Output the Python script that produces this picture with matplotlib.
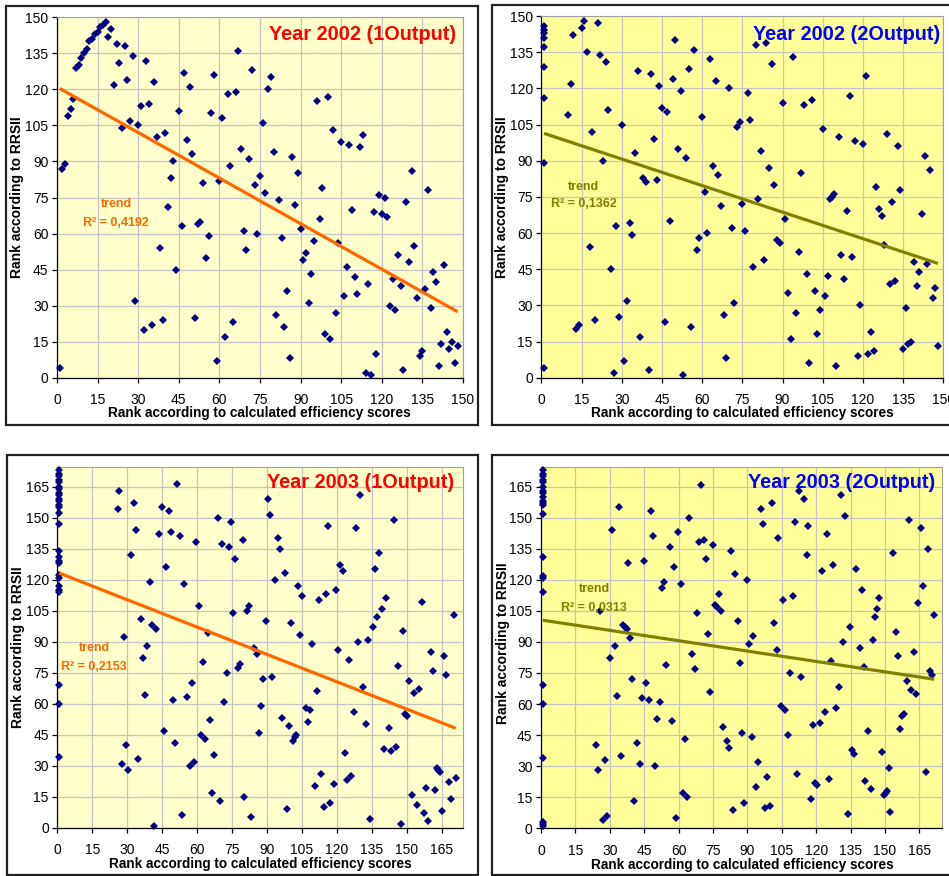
import numpy as np
import matplotlib
matplotlib.use("Agg")
import matplotlib.pyplot as plt
from matplotlib.patches import Rectangle

plt.rcParams['font.family'] = ['Liberation Sans', 'DejaVu Sans']

# ---------------- DATA ----------------
# Panel 1: Year 2002 (1Output)
p1_x = list(range(1, 149))
p1_y = [4, 87, 89, 109, 112, 116, 129, 130, 133, 135, 137, 140, 141, 143, 144, 146, 147, 148, 142, 145,
        122, 139, 131, 104, 138, 124, 107, 134, 32, 105, 113, 20, 132, 114, 22, 123, 100, 54, 24, 102,
        71, 83, 90, 45, 111, 63, 127, 99, 121, 93, 25, 64, 65, 81, 50, 59, 110, 126, 7, 82,
        108, 17, 118, 88, 23, 119, 136, 95, 61, 53, 91, 128, 80, 60, 84, 106, 77, 120, 125, 94,
        26, 74, 58, 21, 36, 8, 92, 72, 85, 62, 49, 52, 31, 43, 57, 115, 66, 79, 18, 117,
        16, 103, 27, 56, 98, 34, 46, 97, 70, 42, 35, 96, 101, 2, 39, 1, 69, 10, 76, 68,
        75, 67, 30, 41, 28, 51, 38, 3, 73, 48, 86, 55, 33, 9, 11, 37, 78, 29, 44, 40,
        5, 14, 47, 19, 12, 15, 6, 13]
p1_trend = [121.0, -0.632]   # intercept, slope
p1_r2 = "0,4192"

# Panel 2: Year 2002 (2Output)
p2_x = [1, 1, 1, 1, 1, 1, 1, 1, 1,
        10, 11, 12, 13, 14, 15, 16, 17, 18, 19, 20, 21, 22, 23, 24, 25, 26, 27, 28, 29,
        30, 31, 32, 33, 34, 35, 36, 37, 38, 39, 40, 41, 42, 43, 44, 45, 46, 47, 48, 49,
        50, 51, 52, 53, 54, 55, 56, 57, 58, 59, 60, 61, 62, 63, 64, 65, 66, 67, 68, 69,
        70, 71, 72, 73, 74, 75, 76, 77, 78, 79, 80, 81, 82, 83, 84, 85, 86, 87, 88, 89,
        90, 91, 92, 93, 94, 95, 96, 97, 98, 99, 100, 101, 102, 103, 104, 105, 106, 107,
        107.8, 108.5, 109.2, 110, 111, 112, 113, 114, 115, 116, 117, 118, 119, 120, 121,
        122, 123, 124, 125, 126, 127, 128, 129, 130, 131, 132, 133, 134, 135, 136, 137,
        138, 139, 140, 141, 142, 143, 144, 145, 146, 147, 148]
p2_y = [146, 144, 143, 141, 137, 129, 116, 89, 4,
        109, 122, 142, 20, 22, 145, 148, 135, 54, 102, 24, 147, 134, 90, 131, 111, 45, 2, 63, 25,
        105, 7, 32, 64, 59, 93, 127, 17, 83, 81, 3, 126, 99, 82, 121, 112, 23, 110, 65, 124,
        140, 95, 119, 1, 91, 128, 21, 136, 53, 58, 108, 77, 60, 132, 88, 123, 84, 71, 26, 8,
        120, 62, 31, 104, 106, 72, 61, 118, 107, 46, 138, 74, 94, 49, 139, 87, 130, 80, 57, 56,
        114, 66, 35, 16, 133, 27, 52, 85, 113, 43, 6, 115, 36, 18, 28, 103, 34, 42,
        74, 75, 76, 5, 100, 51, 41, 69, 117, 50, 98, 9, 30, 97, 125,
        10, 19, 11, 79, 70, 67, 55, 101, 39, 73, 40, 96, 78, 12, 29, 14,
        15, 48, 38, 44, 68, 92, 47, 86, 33, 37, 13]
p2_trend = [101.7, -0.367]
p2_r2 = "0,1362"

# Panel 3: Year 2003 (1Output)
p3_x = [0.8] * 27 + [
    25.9, 26.5, 27.9, 28.6, 29.5, 30.5, 31.8, 32.8, 33.6, 34.5, 35.9, 36.8, 37.6, 38.5, 39.9,
    40.8, 41.6, 42.5, 43.8, 44.8, 45.6, 46.5, 47.9, 48.8, 49.6, 50.6, 51.5, 52.8, 53.6, 54.5,
    55.5, 56.8, 57.7, 58.7, 59.5, 60.8, 61.7, 62.5, 63.5, 64.8, 65.7, 66.5, 67.4, 68.8, 69.7,
    70.5, 71.5, 72.8, 73.7, 74.5, 75.4, 76.4, 77.5, 78.4, 79.5, 80.3, 81.4, 82.3, 83.2, 84.6,
    85.6, 86.6, 87.4, 88.3, 89.6, 90.6, 91.4, 92.3, 93.6, 94.6, 95.5, 96.3, 97.6, 98.6, 99.4,
    100.3, 101.3, 102.0, 102.6, 103.4, 104.3, 105.2, 106.6, 107.4, 108.3, 109.2, 110.6, 111.5,
    112.5, 113.2, 114.5, 115.5, 116.3, 117.2, 118.6, 119.5, 120.3, 121.2, 122.6, 123.5, 124.2,
    125.2, 126.2, 127.3, 128.3, 129.2, 130.1, 131.4, 132.3, 133.2, 134.3, 135.4, 136.3, 137.1,
    138.0, 139.5, 140.4, 141.1, 142.2, 143.4, 144.4, 145.2, 146.1, 147.5, 148.4, 149.4, 150.2,
    151.1, 152.4, 153.2, 154.2, 155.2, 156.4, 157.2, 158.2, 159.1, 160.4, 161.2, 162.2, 163.0,
    163.5, 164.4, 165.3, 166.1, 167.0, 168.3, 169.1, 170.1, 171.0]
p3_y = [173, 171, 170, 168, 167, 165, 164, 162, 161, 159, 158, 156, 155, 152, 147, 134, 131, 129,
        128, 122, 121, 117, 115, 114, 69, 60, 34] + [
    154, 163, 31, 92, 40, 28, 132, 157, 144, 33, 101, 82, 64, 88, 119,
    98, 1, 96, 142, 155, 47, 126, 153, 143, 62, 41, 166, 141, 6, 118,
    63, 30, 70, 32, 138, 107, 45, 80, 43, 94, 52, 17, 35, 150, 13,
    137, 61, 75, 136, 148, 104, 130, 77, 79, 139, 15, 105, 107, 5, 87,
    84, 46, 59, 72, 100, 159, 151, 73, 120, 140, 135, 53, 123, 9, 49,
    99, 42, 44, 45, 117, 93, 112, 58, 51, 57, 89, 20, 66,
    110, 26, 10, 113, 146, 12, 21, 115, 86, 127, 124, 36, 23,
    81, 25, 56, 145, 90, 161, 68, 50, 91, 4, 97, 125, 102,
    133, 106, 38, 111, 48, 37, 149, 39, 78, 2, 95, 55, 54,
    71, 16, 65, 11, 67, 109, 7, 19, 3, 85, 76, 18, 29,
    28, 27, 8, 83, 74, 22, 14, 103, 24]
p3_trend = [123.5, -0.441]
p3_r2 = "0,2153"

# Panel 4: Year 2003 (2Output)
p4_x = [0.8] * 23 + [
    24.0, 24.9, 25.9, 27.2, 28.1, 28.9, 30.0, 30.8, 32.1, 33.0, 33.9, 34.9, 35.8, 36.6, 37.5,
    38.0, 39.0, 39.8, 40.7, 42.0, 43.0, 43.9, 44.8, 45.7, 47.1, 48.0, 48.9, 49.7, 50.6, 52.1,
    52.8, 53.8, 54.7, 56.1, 57.0, 57.9, 58.9, 59.8, 61.1, 62.0, 63.0, 63.7, 64.7, 66.0, 67.0,
    67.9, 68.8, 69.7, 71.0, 72.0, 72.9, 73.7, 74.8, 75.8, 76.6, 77.5, 78.5, 79.5, 80.9, 81.9,
    82.8, 83.8, 84.4, 85.9, 86.8, 87.7, 88.6, 90.0, 90.9, 91.8, 92.6, 93.7, 94.8, 95.8, 96.7,
    97.7, 98.6, 99.9, 100.8, 101.8, 102.7, 103.5, 104.6, 105.7, 106.6, 107.6, 108.5, 110.0,
    110.8, 111.7, 112.6, 113.4, 114.9, 115.8, 116.6, 117.6, 118.5, 119.6, 120.4, 121.7, 122.4,
    123.9, 124.8, 125.6, 126.5, 127.5, 128.8, 129.9, 130.7, 131.6, 132.5, 133.8, 134.8, 135.7,
    136.5, 137.4, 138.9, 139.8, 140.8, 141.5, 142.5, 143.7, 144.7, 145.6, 146.6, 147.5, 148.8,
    149.5, 150.3, 150.8, 151.6, 152.4, 153.6, 154.6, 155.6, 156.5, 157.5, 158.5, 159.6, 160.6,
    161.3, 162.7, 163.7, 164.6, 165.5, 166.4, 167.7, 168.7, 169.5, 170.5, 171.5]
p4_y = [173, 171, 170, 168, 167, 165, 163, 162, 160, 158, 157, 156, 152, 131, 122, 121, 114, 69,
        60, 34, 3, 2, 1] + [
    40, 28, 105, 4, 33, 6, 82, 144, 88, 64, 155, 35, 98, 97, 96,
    128, 92, 72, 13, 41, 31, 63, 129, 70, 62, 153, 141, 30, 53, 61,
    116, 119, 79, 136, 52, 126, 5, 143, 118, 17, 43, 15, 150, 84, 77,
    104, 138, 166, 139, 130, 94, 66, 137, 108, 107, 113, 105, 49, 42, 39,
    134, 9, 123, 100, 80, 46, 12, 120, 89, 44, 93, 20, 32, 154, 147,
    10, 25, 11, 157, 99, 86, 140, 59, 110, 57, 45, 75, 112,
    148, 26, 163, 73, 159, 132, 146, 14, 50, 22, 21, 51, 124,
    56, 142, 24, 81, 127, 58, 68, 161, 90, 151, 7, 97, 38,
    36, 125, 87, 115, 78, 23, 47, 19, 91, 102, 106, 111, 37,
    16, 17, 18, 29, 8, 133, 95, 83, 48, 54, 55, 71, 149,
    67, 85, 65, 109, 145, 117, 27, 135, 76, 74, 103]
p4_trend = [100.6, -0.167]
p4_r2 = "0,0313"

titles = ["Year 2002 (1Output)", "Year 2002 (2Output)", "Year 2003 (1Output)", "Year 2003 (2Output)"]
x_label = "Rank according to calculated efficiency scores"
y_label = "Rank according to RRSII"

# ---------------- LAYOUT ----------------
W, H = 949, 876
fig = plt.figure(figsize=(W / 100, H / 100), dpi=100)
fig.patch.set_facecolor('white')


def fx(x):
    return x / W


def fy(y):
    return 1 - y / H


# chart-area frames (pixels: x0, y0, x1, y1)
frames = [(6, 6, 478, 425), (492, 5, 965, 425), (7, 455, 478, 875), (492, 455, 965, 875)]
for (x0, y0, x1, y1) in frames:
    fig.patches.append(Rectangle((fx(x0), fy(y1)), fx(x1) - fx(x0), fy(y0) - fy(y1),
                                 transform=fig.transFigure, facecolor='white',
                                 edgecolor='#222222', lw=1.6, zorder=-10))

panels = [
    dict(rect=(57, 17.3, 463, 377.7), x=p1_x, y=p1_y, trend=p1_trend, r2=p1_r2, lim=(150, 150),
         bg='#FFFFCC', tcol='#FF0000', lcol='#FF6600', title_px=(456, 35),
         trend_txt=(21.9, 72.3, 64.4), ylab_px=(17, 197), xlab_px=(259.5, 413)),
    dict(rect=(541.3, 16, 943.3, 377.7), x=p2_x, y=p2_y, trend=p2_trend, r2=p2_r2, lim=(150, 150),
         bg='#FFFF99', tcol='#0000FF', lcol='#808000', title_px=(940, 35),
         trend_txt=(15.7, 79.2, 71.9), ylab_px=(501.7, 197), xlab_px=(742, 413)),
    dict(rect=(57.3, 466.7, 462.7, 827.7), x=p3_x, y=p3_y, trend=p3_trend, r2=p3_r2, lim=(174, 174.6),
         bg='#FFFFCC', tcol='#FF0000', lcol='#FF6600', title_px=(454, 483),
         trend_txt=(15.9, 87.1, 77.9), ylab_px=(18.3, 647), xlab_px=(260.8, 864)),
    dict(rect=(541, 466.7, 942.3, 828.3), x=p4_x, y=p4_y, trend=p4_trend, r2=p4_r2, lim=(175, 174.6),
         bg='#FFFF99', tcol='#0000FF', lcol='#808000', title_px=(935, 482),
         trend_txt=(23.1, 115.6, 106.5), ylab_px=(502.7, 643), xlab_px=(742, 865)),
]

for i, p in enumerate(panels):
    x0, y0, x1, y1 = p['rect']
    ax = fig.add_axes([fx(x0), fy(y1), fx(x1) - fx(x0), fy(y0) - fy(y1)])
    ax.set_zorder(1)
    ax.set_facecolor(p['bg'])
    ax.set_xlim(0, p['lim'][0])
    ax.set_ylim(0, p['lim'][1])
    top = 150 if p['lim'][0] <= 150 else 165
    ax.set_xticks(np.arange(0, top + 1, 15))
    ax.set_yticks(np.arange(0, top + 1, 15))
    ax.grid(True, color='#C4C4C4', lw=0.9, zorder=0)
    ax.set_axisbelow(True)
    for s in ['top', 'right']:
        ax.spines[s].set_color('#A0A0A0')
        ax.spines[s].set_linewidth(0.8)
    for s in ['left', 'bottom']:
        ax.spines[s].set_color('black')
        ax.spines[s].set_linewidth(0.9)
    ax.tick_params(axis='both', direction='out', length=3.6, width=0.9, labelsize=10, colors='black')
    ax.tick_params(axis='x', pad=7.5)
    ax.tick_params(axis='y', pad=2.5)

    xs = np.asarray(p['x'], dtype=float)
    ys = np.asarray(p['y'], dtype=float)
    ax.plot(xs, ys, linestyle='none', marker='D', ms=3.8, color='#000080',
            markeredgewidth=0, zorder=3, clip_on=False)

    b0, b1 = p['trend']
    tx = np.array([xs.min(), xs.max()])
    ax.plot(tx, b0 + b1 * tx, color=p['lcol'], lw=2.3, zorder=4, solid_capstyle='butt')

    txx, ty1, ty2 = p['trend_txt']
    ax.text(txx, ty1, "trend", color=p['lcol'], fontsize=9, fontweight='bold', ha='center', va='center')
    ax.text(txx, ty2, "R² = " + p['r2'], color=p['lcol'], fontsize=9, fontweight='bold',
            ha='center', va='center')

    tpx, tpy = p['title_px']
    fig.text(fx(tpx), fy(tpy), titles[i], color=p['tcol'], fontsize=14.3, fontweight='bold',
             ha='right', va='center', zorder=5)
    lx, ly = p['ylab_px']
    fig.text(fx(lx), fy(ly), y_label, rotation=90, fontsize=10, fontweight='bold',
             ha='center', va='center')
    bx, by = p['xlab_px']
    fig.text(fx(bx), fy(by), x_label, fontsize=9.8, fontweight='bold', ha='center', va='center')

fig.savefig("out.png", dpi=100, facecolor='white')
